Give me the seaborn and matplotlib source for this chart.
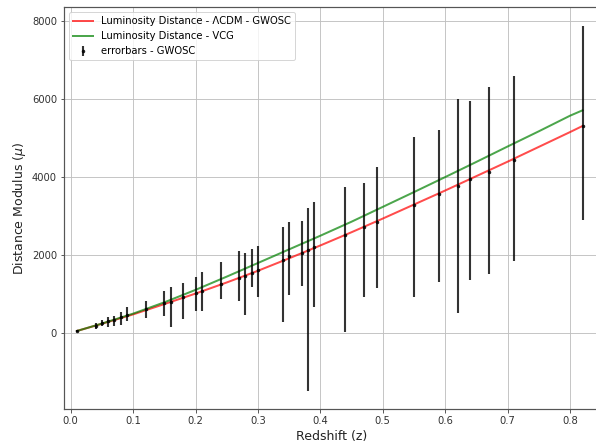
import numpy as np
import pandas as pd
import matplotlib
matplotlib.use("Agg")
import matplotlib.pyplot as plt
import seaborn as sns

# ---- data ----
z_obs = [0.01, 0.04, 0.05, 0.06, 0.07, 0.08, 0.09, 0.12, 0.15, 0.16, 0.18, 0.20,
         0.21, 0.24, 0.27, 0.28, 0.29, 0.30, 0.34, 0.35, 0.37, 0.38, 0.39, 0.44,
         0.47, 0.49, 0.55, 0.59, 0.62, 0.64, 0.67, 0.71, 0.82]
mu_obs = [50, 180, 257, 293, 326, 395, 447, 600, 762, 796, 908, 1011,
          1078, 1250, 1410, 1455, 1540, 1609, 1866, 1960, 2038, 2123, 2208, 2516,
          2705, 2842, 3286, 3553, 3774, 3937, 4125, 4441, 5306]
mu_top = [70, 241, 318, 395, 436, 531, 652, 821, 1063, 1165, 1268, 1438,
          1558, 1823, 2097, 2045, 2149, 2233, 2705, 2834, 2867, 3193, 3363, 3748,
          3835, 4261, 5016, 5203, 5999, 5948, 6299, 6590, 7870]
mu_bot = [30, 103, 180, 154, 180, 205, 293, 377, 429, 139, 344, 565,
          549, 865, 806, 454, 1165, 924, 267, 975, 1199, -1497, 652, 26,
          924, 1140, 924, 1309, 498, 1353, 1499, 1848, 2893]

z_line = [0.01, 0.05, 0.10, 0.15, 0.20, 0.25, 0.30, 0.35, 0.40, 0.45, 0.50,
          0.55, 0.60, 0.65, 0.70, 0.75, 0.80, 0.82]
dl_lcdm = [45, 230, 470, 735, 1005, 1290, 1590, 1910, 2240, 2580, 2930,
           3290, 3650, 4020, 4390, 4770, 5150, 5306]
dl_vcg = [45, 235, 490, 780, 1100, 1440, 1790, 2140, 2490, 2850, 3230,
          3610, 3995, 4385, 4780, 5170, 5570, 5708]

label_lcdm = "Luminosity Distance - ΛCDM - GWOSC"
label_vcg = "Luminosity Distance - VCG"
label_err = "errorbars - GWOSC"

# ---- figure ----
W, H, DPI = 596, 443, 72
fig = plt.figure(figsize=(W / DPI, H / DPI), dpi=DPI)
ax = fig.add_axes([64 / W, (H - 409) / H, (600 - 64) / W, (409 - 7) / H])

lines_df = pd.DataFrame({"z": z_line, "lcdm": dl_lcdm, "vcg": dl_vcg})
sns.lineplot(data=lines_df, x="z", y="lcdm", ax=ax, color="red", alpha=0.7,
             linewidth=2, label=label_lcdm)
sns.lineplot(data=lines_df, x="z", y="vcg", ax=ax, color="green", alpha=0.7,
             linewidth=2, label=label_vcg)

mu = np.array(mu_obs)
yerr = np.vstack([mu - np.array(mu_bot), np.array(mu_top) - mu])
ax.errorbar(z_obs, mu_obs, yerr=yerr, fmt=".k", markersize=5,
            elinewidth=2.1, ecolor="black", alpha=0.8, label=label_err)

ax.set_xlim(-0.0108, 0.848)
ax.set_ylim(-1958, 8360)
ax.set_xticks([0.0, 0.1, 0.2, 0.3, 0.4, 0.5, 0.6, 0.7, 0.8])
ax.set_yticks([0, 2000, 4000, 6000, 8000])
ax.tick_params(labelsize=10, colors="#333333")
for s in ax.spines.values():
    s.set_color("#555555")
    s.set_linewidth(1.2)
ax.grid(True, color="#c0c0c0", linewidth=0.9)
ax.set_axisbelow(True)
ax.set_xlabel("Redshift (z)", fontsize=12.5, color="#222222")
ax.set_ylabel(r"Distance Modulus ($\mu$)", fontsize=12.5, color="#222222")
ax.legend(loc="upper left", fontsize=10)

fig.savefig("out.png", dpi=DPI)
